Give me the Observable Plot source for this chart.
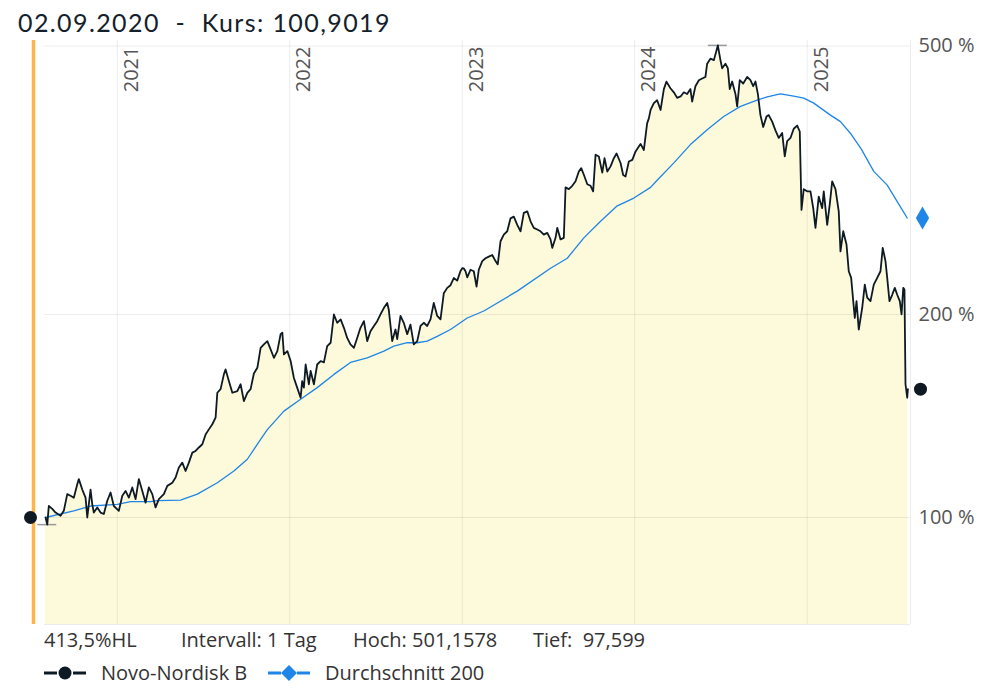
<!DOCTYPE html>
<html>
<head>
<meta charset="utf-8">
<script src="https://cdn.jsdelivr.net/npm/d3@7"></script>
<script src="https://cdn.jsdelivr.net/npm/@observablehq/plot@0.6"></script>
<style>
  body { margin: 0; background: #fff; width: 999px; height: 700px; overflow: hidden; font-family: "Open Sans", sans-serif; }
  #title { position: relative; height: 26px; z-index: 2; }
  #title span { position: absolute; left: 18px; top: 7px; font-family: Lato, sans-serif; font-size: 25px; line-height: 30px; color: #14212b; white-space: pre; letter-spacing: 1.4px; }
  #chart svg { display: block; }
  .row { position: relative; }
  .row span { position: absolute; font-size: 20px; line-height: 20px; color: #333; white-space: pre; }
</style>
</head>
<body>
<div id="title"></div>
<div id="chart"></div>
<div class="row" id="info" style="height:32px"></div>
<div class="row" id="legend" style="height:36px"></div>
<script>
// ---- data (x = decimal year, y = performance in %) ----
const titleText = "02.09.2020  -  Kurs: 100,9019";
const years = [2021, 2022, 2023, 2024, 2025];
const yTicks = [100, 200, 500];
const infoTexts = ["413,5%HL", "Intervall: 1 Tag", "Hoch: 501,1578", "Tief:  97,599"];
const seriesNames = ["Novo-Nordisk B", "Durchschnitt 200"];

const novo = [
  [2020.584,100],[2020.594,97.6],[2020.603,104],[2020.623,103],[2020.642,101.7],[2020.671,100.6],[2020.690,102.3],
  [2020.710,108.3],[2020.729,107.7],[2020.748,107],[2020.768,112],[2020.777,114],[2020.797,110],[2020.816,107],
  [2020.826,100],[2020.845,110],[2020.855,104.6],[2020.864,101.7],[2020.884,103.5],[2020.903,101.7],[2020.922,101.2],
  [2020.942,105.9],[2020.961,108.9],[2020.980,104],[2021.009,102.3],[2021.029,107.7],[2021.048,109.5],[2021.067,107],
  [2021.087,110.8],[2021.106,106.5],[2021.125,114],[2021.145,109.5],[2021.164,105.2],[2021.183,110.8],[2021.203,108.3],
  [2021.222,103.5],[2021.241,106.5],[2021.270,108.3],[2021.290,111.4],[2021.319,112.6],[2021.338,114.6],[2021.357,118.6],
  [2021.377,120.6],[2021.396,117.2],[2021.415,120.6],[2021.435,124.8],[2021.454,125.5],[2021.473,127],[2021.493,128.4],
  [2021.512,132.8],[2021.531,135.1],[2021.551,137.5],[2021.570,140.6],[2021.580,153.1],[2021.599,155],[2021.618,163],
  [2021.628,165.8],[2021.647,159.3],[2021.667,153.1],[2021.696,154],[2021.715,157.6],[2021.734,148.8],[2021.754,153],
  [2021.773,155],[2021.792,163.5],[2021.812,166.7],[2021.821,172],[2021.831,178.5],[2021.850,180.6],[2021.870,182.6],
  [2021.889,177.5],[2021.908,172.5],[2021.928,176.5],[2021.947,187],[2021.957,188],[2021.966,174.5],[2021.986,176.5],
  [2022.005,170.6],[2022.024,161],[2022.043,155.8],[2022.063,150.5],[2022.072,159.3],[2022.082,155.8],[2022.092,168.6],
  [2022.111,157.6],[2022.121,164.9],[2022.140,157.6],[2022.159,168.6],[2022.179,170.6],[2022.198,169.8],[2022.217,179.5],
  [2022.237,181.6],[2022.256,200],[2022.275,194.4],[2022.295,196.7],[2022.314,191.1],[2022.333,184.6],[2022.352,180.6],
  [2022.372,178.5],[2022.391,184.6],[2022.410,191.1],[2022.430,195.5],[2022.449,182.6],[2022.468,188.9],[2022.488,192.3],
  [2022.507,195.5],[2022.526,200],[2022.546,204.6],[2022.565,208],[2022.574,203.3],[2022.594,182.6],[2022.613,190],
  [2022.623,183.8],[2022.642,199],[2022.661,194.4],[2022.681,187],[2022.700,193.2],[2022.719,180.6],[2022.739,182.6],
  [2022.758,192.3],[2022.777,194.4],[2022.797,192.3],[2022.816,196.7],[2022.835,208],[2022.855,199],[2022.874,196.7],
  [2022.893,215],[2022.913,219],[2022.932,221],[2022.951,226.5],[2022.971,224.5],[2022.990,232],[2023.000,234.2],
  [2023.009,234],[2023.019,231.8],[2023.029,227],[2023.048,233],[2023.067,231.8],[2023.083,220],[2023.096,233],
  [2023.116,240],[2023.135,242.3],[2023.154,243.7],[2023.174,245],[2023.193,240],[2023.206,237.3],[2023.222,256.8],
  [2023.241,262.7],[2023.261,265.7],[2023.280,277.7],[2023.299,279.3],[2023.319,271.6],[2023.338,265.7],[2023.357,282.9],
  [2023.377,284.4],[2023.396,274.9],[2023.415,268.8],[2023.435,267.3],[2023.454,265.7],[2023.473,262.7],[2023.493,264.2],
  [2023.512,258.4],[2023.522,251],[2023.541,259.8],[2023.551,268.8],[2023.570,258.4],[2023.589,259.8],[2023.599,308.6],
  [2023.618,306.8],[2023.638,310.3],[2023.657,315.1],[2023.676,325.8],[2023.690,329.6],[2023.705,322.2],[2023.725,312],
  [2023.744,310.3],[2023.759,304.5],[2023.773,345],[2023.792,343],[2023.812,324.6],[2023.825,341],[2023.841,325.8],
  [2023.860,331.6],[2023.879,341],[2023.895,346.5],[2023.918,335.4],[2023.933,322],[2023.947,320.4],[2023.966,337.2],
  [2023.986,339],[2024.005,349],[2024.024,354.9],[2024.034,358],[2024.053,350.7],[2024.072,384],[2024.082,390.6],
  [2024.092,402],[2024.111,411.5],[2024.130,415.6],[2024.150,402],[2024.169,431.7],[2024.184,442.9],[2024.207,433],
  [2024.227,427],[2024.246,419],[2024.266,421],[2024.285,427],[2024.304,424.6],[2024.323,431.7],[2024.333,413.7],
  [2024.352,436],[2024.372,445],[2024.391,447.5],[2024.410,450],[2024.420,470.8],[2024.439,479],[2024.459,476.6],
  [2024.482,501.16],[2024.497,476.6],[2024.507,463.5],[2024.526,470.8],[2024.540,463.5],[2024.551,431.7],[2024.565,443],
  [2024.584,424.6],[2024.594,406.9],[2024.609,445],[2024.629,440],[2024.652,450],[2024.671,445],[2024.687,436],
  [2024.700,443],[2024.714,424.6],[2024.729,395],[2024.745,379.3],[2024.764,393],[2024.777,395],[2024.787,390.6],
  [2024.797,386.3],[2024.816,375],[2024.835,365.4],[2024.855,371.6],[2024.870,343],[2024.884,361.4],[2024.903,365.4],
  [2024.922,377],[2024.942,381.2],[2024.957,373.5],[2024.967,285.8],[2024.980,306.8],[2025.000,304.5],[2025.019,304.5],
  [2025.035,287.5],[2025.048,268.8],[2025.067,299],[2025.087,287.5],[2025.096,304.5],[2025.116,271.6],[2025.131,291.4],
  [2025.145,315],[2025.164,306.8],[2025.183,284.4],[2025.193,248],[2025.209,265.7],[2025.228,254],[2025.241,231.8],
  [2025.255,226.6],[2025.267,209.3],[2025.276,197.6],[2025.286,209.3],[2025.299,190],[2025.319,204.6],[2025.334,221.5],
  [2025.348,211.8],[2025.367,209.3],[2025.386,221.5],[2025.406,226.6],[2025.425,231.8],[2025.438,251],[2025.454,240],
  [2025.464,226.6],[2025.477,209.3],[2025.493,213.9],[2025.508,219],[2025.522,213.9],[2025.537,209.3],[2025.547,200],
  [2025.557,219],[2025.564,217.7],[2025.570,157.6],[2025.580,150.5],[2025.584,155]
];

const avg200 = [
  [2020.584,100],[2020.748,102.3],[2020.845,104],[2021.000,104.6],[2021.077,105.6],[2021.193,105.6],[2021.232,105.9],
  [2021.367,106.1],[2021.464,108.3],[2021.580,112.6],[2021.676,117.2],[2021.754,122],[2021.831,130.6],[2021.870,135],
  [2021.966,143.8],[2022.063,149.7],[2022.159,155.8],[2022.256,163],[2022.352,169.8],[2022.449,172.5],[2022.546,176.5],
  [2022.603,179.5],[2022.681,181.6],[2022.739,181.6],[2022.797,182.6],[2022.855,185.6],[2022.932,190],[2023.029,197.6],
  [2023.125,202.4],[2023.319,216.6],[2023.512,234.2],[2023.609,242.3],[2023.705,259.8],[2023.802,274.9],[2023.899,289.8],
  [2023.995,297.6],[2024.092,308.6],[2024.130,316.3],[2024.227,335.6],[2024.323,357.2],[2024.420,375.8],[2024.516,393.1],
  [2024.613,407],[2024.710,415.6],[2024.768,420.5],[2024.845,424.8],[2024.922,421.5],[2024.980,418.7],[2025.038,411.5],
  [2025.135,395],[2025.193,386.3],[2025.255,370],[2025.313,352],[2025.386,326],[2025.464,311],[2025.522,294],[2025.580,278]
];

// ---- chart ----
const dark = "#0d1a24", blue = "#1f85e6", orange = "#fdb54a", fillYellow = "#fdf9db";
const xDomain = [2020.578, 2025.599];
const yDomain = [69.4, 509.6];
const price = novo.map(([t, v]) => ({t, v}));
const ma = avg200.map(([t, v]) => ({t, v}));
const first = price[0], last = price[price.length - 1], lastMa = ma[ma.length - 1];
const hiPt = d3.greatest(price, d => d.v), loPt = d3.least(price, d => d.v);
const barHalf = 0.055;
const gridStyle = {stroke: "#000", strokeOpacity: 0.075, strokeWidth: 1};

document.getElementById("title").innerHTML = `<span>${titleText}</span>`;

const chart = Plot.plot({
  width: 999,
  height: 606,
  marginTop: 14,
  marginBottom: 8,
  marginLeft: 44,
  marginRight: 89,
  style: {fontFamily: "'Open Sans', sans-serif", fontSize: "20px", color: "#555", background: "transparent"},
  x: {domain: xDomain, axis: null},
  y: {type: "log", domain: yDomain, ticks: yTicks, tickFormat: d => d + " %", tickSize: 0, tickPadding: 8, axis: "right", label: null},
  marks: [
    Plot.areaY(price, {x: "t", y1: yDomain[0], y2: "v", fill: fillYellow}),
    Plot.ruleY(yTicks, gridStyle),
    Plot.ruleX(years, gridStyle),
    Plot.ruleX([xDomain[1]], gridStyle),
    Plot.ruleY([yDomain[0]], gridStyle),
    Plot.ruleX([xDomain[0]], {dx: -11, stroke: orange, strokeWidth: 3.5}),
    Plot.text(years, {x: d => d, text: d => String(d), frameAnchor: "top", rotate: -90, textAnchor: "end", lineAnchor: "middle", dx: 14, dy: 6, fill: "#555", fontSize: 20}),
    Plot.ruleY([hiPt, loPt], {y: "v", x1: d => d.t - barHalf, x2: d => d.t + barHalf, stroke: "#9a9a9a", strokeWidth: 1.5}),
    Plot.line(ma, {x: "t", y: "v", stroke: blue, strokeWidth: 1.3}),
    Plot.line(price, {x: "t", y: "v", stroke: dark, strokeWidth: 1.8}),
    Plot.dot([first], {x: xDomain[0], y: "v", dx: -14, r: 6.5, fill: dark}),
    Plot.dot([last], {x: xDomain[1], y: "v", dx: 10, r: 6.5, fill: dark}),
    Plot.dot([lastMa], {x: xDomain[1], y: "v", dx: 12, r: 7, symbol: "diamond", fill: blue})
  ]
});
document.getElementById("chart").appendChild(chart);

// ---- info row & legend ----
const infoX = [44, 181, 353, 533];
const info = document.getElementById("info");
infoTexts.forEach((t, i) => {
  const s = document.createElement("span");
  s.textContent = t; s.style.left = infoX[i] + "px"; s.style.top = "-2px";
  info.appendChild(s);
});

const legend = document.getElementById("legend");
const markerSvg = (color, shape) => `<svg width="42" height="20" viewBox="0 0 42 20">
  <line x1="0" x2="13" y1="10" y2="10" stroke="${color}" stroke-width="3"/>
  <line x1="29" x2="42" y1="10" y2="10" stroke="${color}" stroke-width="3"/>
  ${shape === "circle" ? `<circle cx="21" cy="10" r="6.5" fill="${color}"/>` : `<path d="M21,2 L29,10 L21,18 L13,10 Z" fill="${color}"/>`}
</svg>`;
const legItems = [
  {mx: 44, tx: 101, color: dark, shape: "circle", name: seriesNames[0]},
  {mx: 268, tx: 325, color: blue, shape: "diamond", name: seriesNames[1]}
];
legItems.forEach(it => {
  const m = document.createElement("div");
  m.style.cssText = `position:absolute;left:${it.mx}px;top:-1px;width:42px;height:20px;`;
  m.innerHTML = markerSvg(it.color, it.shape);
  legend.appendChild(m);
  const s = document.createElement("span");
  s.textContent = it.name; s.style.left = it.tx + "px"; s.style.top = "-1px";
  legend.appendChild(s);
});
</script>
</body>
</html>
